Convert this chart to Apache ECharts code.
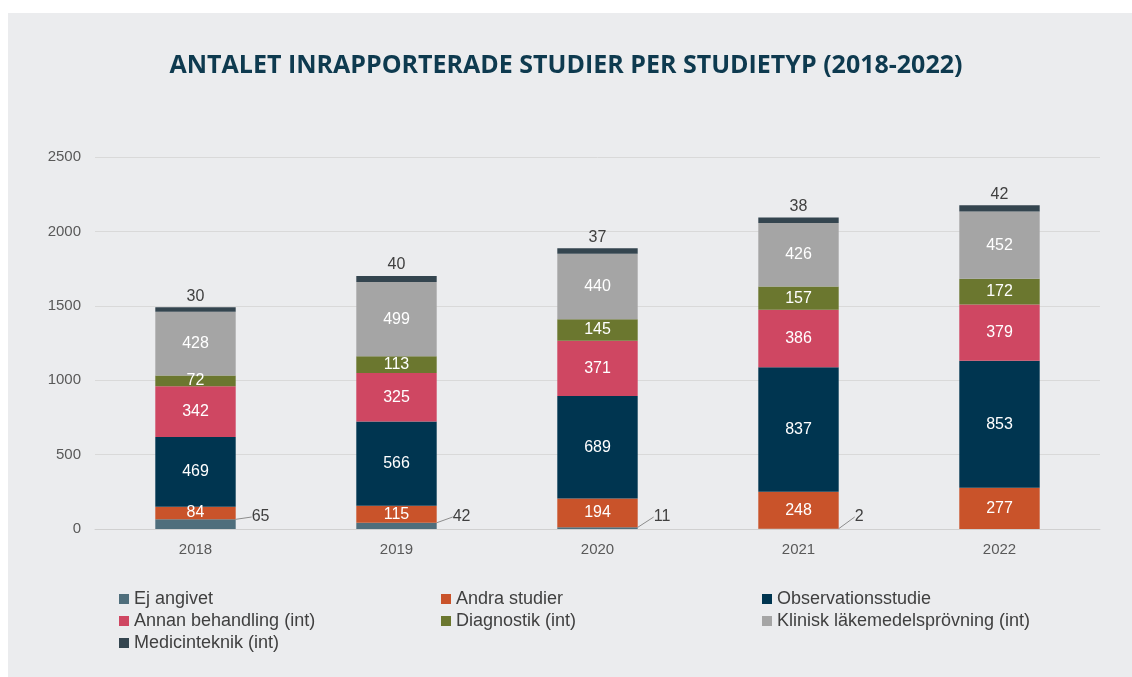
<!DOCTYPE html>
<html>
<head>
<meta charset="utf-8">
<script src="https://cdn.jsdelivr.net/npm/echarts@6/dist/echarts.min.js"></script>
<style>
  html, body { margin: 0; padding: 0; background: #ffffff; }
  #panel { position: absolute; left: 8px; top: 13px; width: 1124px; height: 664px; background: #ebecee; }
  #chart { position: absolute; left: 0; top: 0; width: 1132px; height: 677px; }
</style>
</head>
<body>
<div id="panel"></div>
<div id="chart"></div>
<script>
  // kategorier (år)
  const years = ['2018', '2019', '2020', '2021', '2022']
  const yTicks = [0, 500, 1000, 1500, 2000, 2500]

  // värden per studietyp
  const ejAngivet = [65, 42, 11, 2, 0]
  const andraStudier = [84, 115, 194, 248, 277]
  const observationsstudie = [469, 566, 689, 837, 853]
  const annanBehandling = [342, 325, 371, 386, 379]
  const diagnostik = [72, 113, 145, 157, 172]
  const klinisk = [428, 499, 440, 426, 452]
  const medicinteknik = [30, 40, 37, 38, 42]

  const chart = echarts.init(document.getElementById('chart'), null, { renderer: 'canvas' })

  const inside = {
    show: true,
    position: 'inside',
    color: '#ffffff',
    fontSize: 16,
    fontFamily: 'Liberation Sans'
  }

  const legendText = { color: '#404040', fontSize: 18, fontFamily: 'Liberation Sans' }

  const mkLegend = (left, names) => ({
    left: left,
    top: 585,
    orient: 'vertical',
    itemWidth: 10,
    itemHeight: 10,
    itemGap: 4,
    icon: 'rect',
    textStyle: legendText,
    data: names
  })

  // nollvärden får ingen etikett
  const ejData = ejAngivet.map(v => v > 0 ? v : { value: v, label: { show: false }, labelLine: { show: false } })

  const option = {
    backgroundColor: 'transparent',
    animation: false,
    color: ['#4f6e7c', '#c9532a', '#003550', '#cf4762', '#6b772f', '#a5a5a5', '#34454f'],
    title: {
      text: 'ANTALET INRAPPORTERADE STUDIER PER STUDIETYP (2018-2022)',
      left: 'center',
      top: 48,
      textStyle: {
        color: '#0e3a4f',
        fontSize: 25,
        fontWeight: 'bold',
        fontFamily: 'Open Sans'
      }
    },
    legend: [
      mkLegend(114, ['Ej angivet', 'Annan behandling (int)', 'Medicinteknik (int)']),
      mkLegend(436, ['Andra studier', 'Diagnostik (int)']),
      mkLegend(757, ['Observationsstudie', 'Klinisk läkemedelsprövning (int)'])
    ],
    grid: { left: 95, right: 32, top: 157, bottom: 148 },
    xAxis: {
      type: 'category',
      data: years,
      axisTick: { show: false },
      axisLine: { lineStyle: { color: '#d0d0d0' } },
      axisLabel: { color: '#595959', fontSize: 15, fontFamily: 'Liberation Sans', margin: 13 }
    },
    yAxis: {
      type: 'value',
      min: yTicks[0],
      max: yTicks[yTicks.length - 1],
      interval: 500,
      axisLabel: { color: '#595959', fontSize: 15, fontFamily: 'Liberation Sans', margin: 14, formatter: v => String(v) },
      splitLine: { lineStyle: { color: '#d9d9d9' } }
    },
    series: [
      {
        name: 'Ej angivet', type: 'bar', stack: 'a', barWidth: '40%', data: ejData,
        label: { show: true, position: 'right', color: '#404040', fontSize: 16, fontFamily: 'Liberation Sans' },
        // etiketten lyfts till en jämn nivå strax ovanför stapelns bas
        labelLayout: p => ({
          dx: 11,
          dy: (p.rect.y + p.rect.height - 12) - (p.labelRect.y + p.labelRect.height / 2)
        }),
        labelLine: { show: true, lineStyle: { color: '#8c8c8c', width: 1 } }
      },
      { name: 'Andra studier', type: 'bar', stack: 'a', data: andraStudier, label: inside },
      { name: 'Observationsstudie', type: 'bar', stack: 'a', data: observationsstudie, label: inside },
      { name: 'Annan behandling (int)', type: 'bar', stack: 'a', data: annanBehandling, label: inside },
      { name: 'Diagnostik (int)', type: 'bar', stack: 'a', data: diagnostik, label: inside },
      { name: 'Klinisk läkemedelsprövning (int)', type: 'bar', stack: 'a', data: klinisk, label: inside },
      {
        name: 'Medicinteknik (int)', type: 'bar', stack: 'a', data: medicinteknik,
        label: { show: true, position: 'top', color: '#404040', fontSize: 16, fontFamily: 'Liberation Sans', distance: 3 }
      }
    ]
  }

  chart.setOption(option)
</script>
</body>
</html>
